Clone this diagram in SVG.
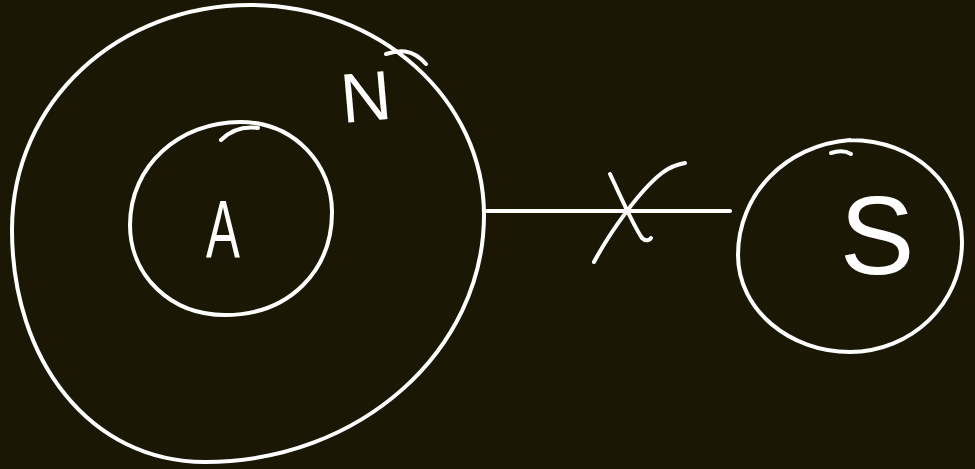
<svg xmlns="http://www.w3.org/2000/svg" width="975" height="469" viewBox="0 0 975 469">
<style>
.s{fill:none;stroke:#ffffff;stroke-width:4;stroke-linecap:round;stroke-linejoin:round}
.t{fill:#ffffff;font-family:"Liberation Sans","DejaVu Sans",sans-serif;text-anchor:middle}
</style>
<rect width="975" height="469" fill="#1a1804"/>
<g id="N">
<path class="s" d="M250,5 C380,5 484,100 484,215 C484,350 360,462 205,462 C90,462 12,360 12,230 C12,100 120,5 250,5"/>
<path class="s" d="M386,54 C398,50 412,48 426,64"/>
<text class="t" x="366" y="121" font-size="70" transform="rotate(-5 366 100)">N</text>
</g>
<g id="A">
<path class="s" d="M240,122 C295,122 332,165 332,212 C332,270 290,315 225,315 C170,315 130,275 130,225 C130,165 180,122 240,122"/>
<path class="s" d="M221,140 C230,131 243,126 258,128"/>
<text class="t" x="223" y="257" font-size="82" transform="translate(223 0) scale(0.62 1) translate(-223 0)">A</text>
</g>
<g id="S">
<path class="s" d="M850,140 C915,140 962,185 962,242 C962,305 910,352 850,352 C790,352 738,310 738,255 C738,195 785,145 850,140"/>
<path class="s" d="M831,153 C840,150 846,151 851,154"/>
<text class="t" x="877" y="274" font-size="112" font-weight="300">S</text>
</g>
<g id="connectors">
<path class="s" d="M487,211 L730,211"/>
<path class="s" d="M610,174 C620,195 633,225 642,238 C646,242 650,240 651,238"/>
<path class="s" d="M594,262 C610,232 640,190 662,173 C671,166 679,164 685,163"/>
</g>
</svg>
